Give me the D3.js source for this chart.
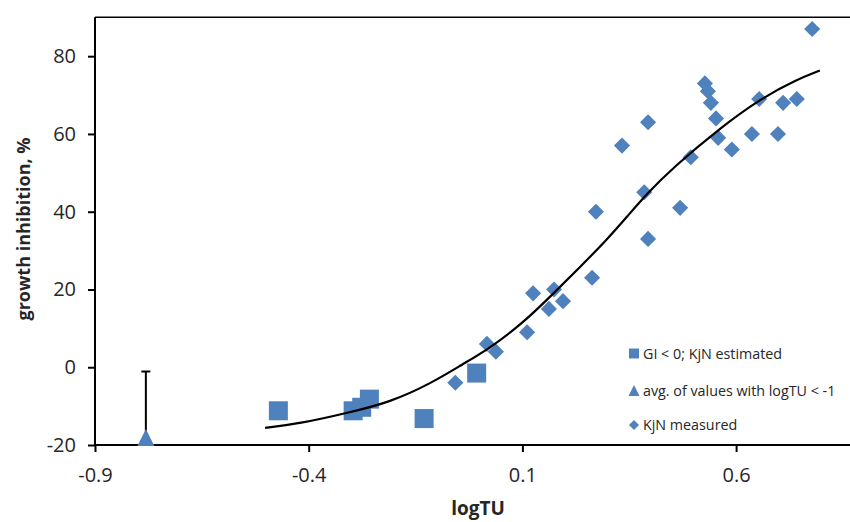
<!DOCTYPE html>
<html>
<head>
<meta charset="utf-8">
<script src="https://cdn.jsdelivr.net/npm/d3@7"></script>
<style>
  html, body { margin: 0; padding: 0; background: #fff; }
  svg { display: block; }
  text { font-family: "Open Sans", "DejaVu Sans", sans-serif; fill: #262626; }
</style>
</head>
<body>
<svg id="chart" width="850" height="522"></svg>
<script>
// ---- data ----
// KjN measured (diamonds): [logTU, growth inhibition %]
const measuredX = [0.778, 0.527, 0.534, 0.541, 0.553, 0.558, 0.590, 0.637, 0.654, 0.698, 0.710, 0.742,
                   0.494, 0.469, 0.394, 0.385, 0.394, 0.333, 0.272, 0.263, 0.195, 0.174, 0.162, 0.125,
                   0.111, 0.038, 0.017, -0.057];
const measuredY = [87, 73, 71, 68, 64, 59, 56, 60, 69, 60, 68, 69,
                   54, 41, 63, 45, 33, 57, 40, 23, 17, 20, 15, 19,
                   9, 4, 6, -4];
// GI < 0; KjN estimated (squares)
const estimatedX = [-0.471, -0.296, -0.276, -0.258, -0.130, -0.007];
const estimatedY = [-11.2, -11.2, -10.3, -8.2, -13.2, -1.5];
// avg. of values with logTU < -1 (triangle) with plus error
const avgX = [-0.781];
const avgY = [-18.3];
const avgErrPlus = [17.2];
// fitted curve, points
const fitX = [-0.502, -0.420, -0.303, -0.210, -0.116, -0.038, 0.020, 0.102, 0.172, 0.235, 0.297, 0.344,
              0.391, 0.453, 0.562, 0.656, 0.742, 0.796];
const fitY = [-15.6, -14.5, -11.6, -9.0, -4.3, 0.9, 4.6, 11.4, 18.9, 25.8, 32.7, 38.6,
              44.6, 51.4, 61.5, 69.0, 74.0, 76.3];
// axes
const xTicks = [-0.9, -0.4, 0.1, 0.6];
const yTicks = [-20, 0, 20, 40, 60, 80];
const legendLabels = ["GI < 0; KjN estimated", "avg. of values with logTU < -1", "KjN measured"];
const xTitle = "logTU";
const yTitle = "growth inhibition, %";

// ---- drawing ----
const svg = d3.select("#chart");
const blue = "#4F81BD";
const plotLeft = 95, plotTop = 17.3, plotBottom = 445;
const x = d3.scaleLinear().domain([-0.9, 1.1]).range([plotLeft, plotLeft + 2 * 427.4]);
const y = d3.scaleLinear().domain([-20, 90]).range([plotBottom, plotTop]);

// plot area border (top and left; chart is cropped on the right)
svg.append("line").attr("x1", plotLeft).attr("x2", 850).attr("y1", plotTop).attr("y2", plotTop)
  .attr("stroke", "#000").attr("stroke-width", 1.5);

// axes
const yAxis = svg.append("g").attr("transform", `translate(${plotLeft},0)`)
  .call(d3.axisLeft(y).tickValues(yTicks).tickSize(7).tickPadding(12).tickFormat(d => String(d)));
const xAxis = svg.append("g").attr("transform", `translate(0,${plotBottom})`)
  .call(d3.axisBottom(x).tickValues(xTicks).tickSize(7).tickPadding(16).tickFormat(d => d.toFixed(1)));
[yAxis, xAxis].forEach(a => {
  a.select(".domain").attr("stroke", "#000").attr("stroke-width", 2);
  a.selectAll(".tick line").attr("stroke", "#000").attr("stroke-width", 2);
  a.selectAll(".tick text").attr("font-size", 20).attr("fill", "#262626")
    .attr("font-family", '"Open Sans", sans-serif');
});
yAxis.select(".domain").attr("d", `M0,${plotBottom}V${plotTop}`);
xAxis.select(".domain").attr("d", `M${plotLeft},0H850`);

// axis titles
svg.append("text").attr("x", 478).attr("y", 515).attr("text-anchor", "middle")
  .attr("font-size", 19).attr("font-weight", "bold").attr("fill", "#000").text(xTitle);
svg.append("text").attr("transform", "translate(30,229) rotate(-90)").attr("text-anchor", "middle")
  .attr("font-size", 18).attr("font-weight", "bold").attr("fill", "#000").text(yTitle);

// markers
const diamond = d3.symbol().type(d3.symbolSquare).size(130);
svg.append("g").selectAll("path").data(measuredX.map((v, i) => [v, measuredY[i]])).join("path")
  .attr("d", diamond)
  .attr("transform", d => `translate(${x(d[0])},${y(d[1])}) rotate(45)`)
  .attr("fill", blue);

svg.append("g").selectAll("rect").data(estimatedX.map((v, i) => [v, estimatedY[i]])).join("rect")
  .attr("x", d => x(d[0]) - 9.5).attr("y", d => y(d[1]) - 9.5)
  .attr("width", 19).attr("height", 19).attr("fill", blue);

// triangle with error bar
const avgData = avgX.map((v, i) => [v, avgY[i], avgErrPlus[i]]);
const eb = svg.append("g");
eb.selectAll("line.v").data(avgData).join("line").attr("class", "v")
  .attr("x1", d => x(d[0])).attr("x2", d => x(d[0]))
  .attr("y1", d => y(d[1])).attr("y2", d => y(d[1] + d[2]))
  .attr("stroke", "#000").attr("stroke-width", 2);
eb.selectAll("line.c").data(avgData).join("line").attr("class", "c")
  .attr("x1", d => x(d[0]) - 4.5).attr("x2", d => x(d[0]) + 4.5)
  .attr("y1", d => y(d[1] + d[2])).attr("y2", d => y(d[1] + d[2]))
  .attr("stroke", "#000").attr("stroke-width", 2);
const tri = (cx, cy, w) => `M${cx},${cy - w * 0.55}L${cx + w / 2},${cy + w * 0.45}L${cx - w / 2},${cy + w * 0.45}Z`;
eb.selectAll("path").data(avgData).join("path")
  .attr("d", d => tri(x(d[0]), y(d[1]), 17)).attr("fill", blue);

// fitted curve
const line = d3.line().x(d => x(d[0])).y(d => y(d[1])).curve(d3.curveBasis);
svg.append("path").datum(fitX.map((v, i) => [v, fitY[i]]))
  .attr("d", line).attr("fill", "none").attr("stroke", "#000").attr("stroke-width", 2.2);

// legend
const lg = svg.append("g");
const lx = 634, rows = [353.5, 391, 425];
lg.append("rect").attr("x", lx - 5).attr("y", rows[0] - 5).attr("width", 10).attr("height", 10).attr("fill", blue);
lg.append("path").attr("d", tri(lx, rows[1], 11)).attr("fill", blue);
lg.append("path").attr("d", d3.symbol().type(d3.symbolSquare).size(50))
  .attr("transform", `translate(${lx},${rows[2]}) rotate(45)`).attr("fill", blue);
lg.selectAll("text").data(legendLabels).join("text")
  .attr("x", 643).attr("y", (d, i) => rows[i]).attr("dy", "0.35em")
  .attr("font-size", 14.3).attr("fill", "#262626").text(d => d);
</script>
</body>
</html>
